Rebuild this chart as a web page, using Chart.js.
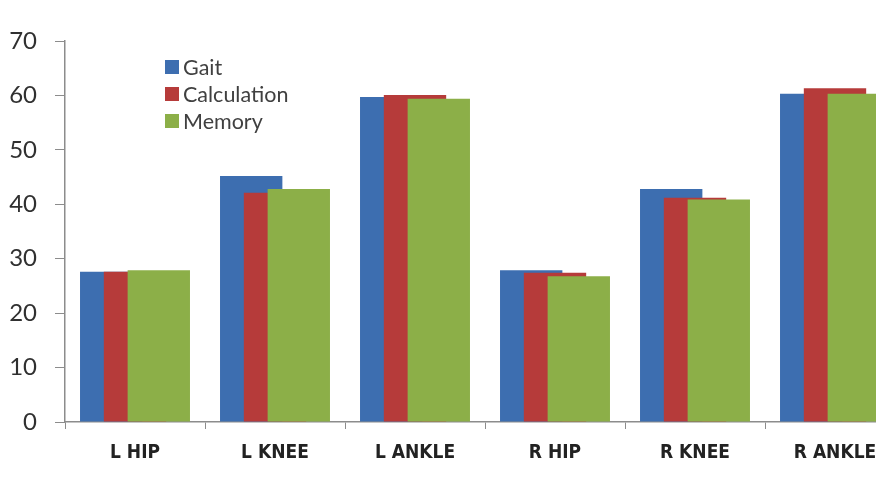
<!DOCTYPE html>
<html>
<head>
<meta charset="utf-8">
<script src="https://cdn.jsdelivr.net/npm/chart.js@4.4.1/dist/chart.umd.min.js"></script>
<style>
  html, body { margin: 0; padding: 0; background: #fff; overflow: hidden; }
  #clip { width: 876px; height: 499px; overflow: hidden; }
  #wrap { width: 905px; height: 499px; position: relative; }
</style>
</head>
<body>
<div id="clip"><div id="wrap"><canvas id="c"></canvas></div></div>
<script>
const categories = ["L HIP", "L KNEE", "L ANKLE", "R HIP", "R KNEE", "R ANKLE"];
const gait = [27.6, 45.2, 59.7, 27.9, 42.8, 60.3];
const calculation = [27.6, 42.1, 60.1, 27.4, 41.2, 61.3];
const memory = [27.9, 42.8, 59.4, 26.8, 40.9, 60.3];
const yTicks = [0, 10, 20, 30, 40, 50, 60, 70];

const colors = { gait: "#3d6eb0", calc: "#b63b3a", mem: "#8caf48" };

// Draw datasets so that later series overlap earlier ones (as in the original)
const drawOrder = {
  id: "drawOrder",
  beforeDatasetsDraw(chart) {
    const ctx = chart.ctx, a = chart.chartArea;
    ctx.save();
    ctx.beginPath();
    ctx.rect(a.left, a.top, a.right - a.left, a.bottom - a.top);
    ctx.clip();
    chart.getSortedVisibleDatasetMetas().forEach(meta => meta.controller.draw());
    ctx.restore();
    return false;
  }
};

const insideLegend = {
  id: "insideLegend",
  afterDraw(chart) {
    const ctx = chart.ctx;
    const a = chart.chartArea;
    const x0 = a.left + 100, y0 = a.top + 26;
    ctx.save();
    ctx.font = "21.5px Lato";
    ctx.textBaseline = "middle";
    chart.data.datasets.forEach((ds, i) => {
      const y = y0 + i * 27;
      ctx.fillStyle = ds.backgroundColor;
      ctx.fillRect(x0, y - 7, 14, 14);
      ctx.fillStyle = "#404040";
      ctx.fillText(ds.label, x0 + 18, y + 1);
    });
    ctx.restore();
  }
};

new Chart(document.getElementById("c"), {
  type: "bar",
  data: {
    labels: categories,
    datasets: [
      { label: "Gait", data: gait, backgroundColor: colors.gait },
      { label: "Calculation", data: calculation, backgroundColor: colors.calc },
      { label: "Memory", data: memory, backgroundColor: colors.mem }
    ]
  },
  options: {
    responsive: true,
    maintainAspectRatio: false,
    animation: false,
    layout: { padding: { top: 41, right: 0, left: 0, bottom: 0 } },
    datasets: { bar: { categoryPercentage: 0.51, barPercentage: 2.62 } },
    plugins: { legend: { display: false }, tooltip: { enabled: false } },
    scales: {
      x: {
        grid: { offset: true, drawOnChartArea: false, drawTicks: true, tickLength: 7, color: "#8c8c8c" },
        border: { color: "#8c8c8c", width: 1.5 },
        ticks: { font: { family: "DejaVu Sans Condensed", size: 19, weight: "bold" }, color: "#222", padding: 13, maxRotation: 0 },
        afterFit(s) { s.height = 77; }
      },
      y: {
        min: 0, max: 70,
        afterBuildTicks(s) { s.ticks = yTicks.map(v => ({ value: v })); },
        grid: { drawOnChartArea: false, drawTicks: true, tickLength: 10, color: "#8c8c8c" },
        border: { color: "#8c8c8c", width: 1.5 },
        ticks: { font: { family: "Lato", size: 24 }, color: "#303030", padding: 18 },
        afterFit(s) { s.width = 65; }
      }
    }
  },
  plugins: [drawOrder, insideLegend]
});
</script>
</body>
</html>
